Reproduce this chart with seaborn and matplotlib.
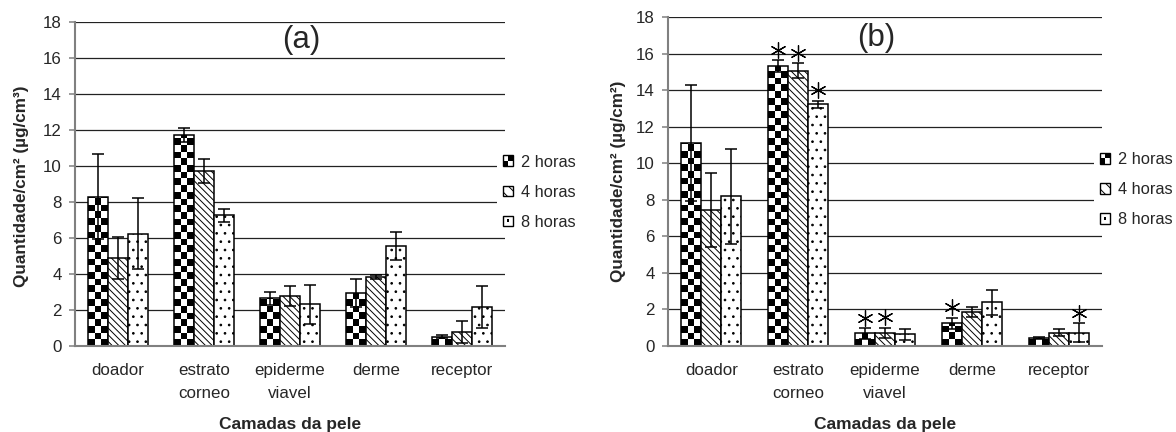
import numpy as np
import pandas as pd
import matplotlib
matplotlib.use("Agg")
import matplotlib.pyplot as plt
import seaborn as sns
from matplotlib.patches import Rectangle
from matplotlib.legend_handler import HandlerBase

# ---------------- data ----------------
categories = ["doador", "estrato\ncorneo", "epiderme\nviavel", "derme", "receptor"]
tempos = ["2 horas", "4 horas", "8 horas"]

a_2h = [8.30, 11.72, 2.65, 2.93, 0.52]
a_4h = [4.88, 9.74, 2.80, 3.85, 0.78]
a_8h = [6.24, 7.26, 2.33, 5.57, 2.17]
a_err_2h = [2.37, 0.41, 0.35, 0.77, 0.08]
a_err_4h = [1.18, 0.67, 0.55, 0.12, 0.60]
a_err_8h = [1.96, 0.35, 1.08, 0.78, 1.18]

b_2h = [11.11, 15.30, 0.69, 1.24, 0.42]
b_4h = [7.43, 15.05, 0.72, 1.88, 0.73]
b_8h = [8.20, 13.22, 0.64, 2.39, 0.73]
b_err_2h = [3.19, 0.33, 0.28, 0.31, 0.05]
b_err_4h = [2.02, 0.41, 0.28, 0.27, 0.20]
b_err_8h = [2.60, 0.19, 0.30, 0.67, 0.51]
b_sig_2h = [False, True, True, True, False]
b_sig_4h = [False, True, True, False, False]
b_sig_8h = [False, True, False, False, True]
a_sig = [[False] * 5] * 3

yticks = [0, 2, 4, 6, 8, 10, 12, 14, 16, 18]
ylabel_a = "Quantidade/cm² (µg/cm³)"
ylabel_b = "Quantidade/cm² (µg/cm²)"
xlabel = "Camadas da pele"

# ---------------- style ----------------
sns.set_style("white")
plt.rcParams["font.family"] = ["Liberation Sans", "DejaVu Sans"]
plt.rcParams["hatch.linewidth"] = 0.7
plt.rcParams["hatch.color"] = "black"

GRAY = "#808080"
FS = 12.2


class CheckerHandler(HandlerBase):
    def create_artists(self, legend, orig_handle, xdescent, ydescent,
                       width, height, fontsize, trans):
        arts = []
        w2, h2 = width / 2, height / 2
        for i in range(2):
            for j in range(2):
                c = "black" if (i + j) % 2 == 0 else "white"
                arts.append(Rectangle((-xdescent + i * w2, -ydescent + j * h2), w2, h2,
                                      facecolor=c, edgecolor="none", transform=trans))
        arts.append(Rectangle((-xdescent, -ydescent), width, height, facecolor="none",
                              edgecolor="black", lw=1.0, transform=trans))
        return arts


class HatchHandler(HandlerBase):
    def create_artists(self, legend, orig_handle, xdescent, ydescent,
                       width, height, fontsize, trans):
        return [Rectangle((-xdescent, -ydescent), width, height, facecolor="white",
                          edgecolor="black", lw=1.0, hatch="\\\\\\", transform=trans)]


class DotHandler(HandlerBase):
    def create_artists(self, legend, orig_handle, xdescent, ydescent,
                       width, height, fontsize, trans):
        d = width * 0.28
        return [Rectangle((-xdescent, -ydescent), width, height, facecolor="white",
                          edgecolor="black", lw=1.0, transform=trans),
                Rectangle((-xdescent + (width - d) / 2, -ydescent + (height - d) / 2), d, d,
                          facecolor="black", edgecolor="none", transform=trans)]


def draw_panel(ax, vals, errs, sigs, ylabel, tag, tagpos, px_per_unit):
    df = pd.DataFrame({
        "camada": categories * 3,
        "tempo": [t for t in tempos for _ in categories],
        "valor": list(vals[0]) + list(vals[1]) + list(vals[2]),
    })
    sns.barplot(data=df, x="camada", y="valor", hue="tempo", order=categories,
                hue_order=tempos, palette=["white"] * 3, width=0.69, gap=0,
                errorbar=None, edgecolor="black", linewidth=1.1, legend=False,
                ax=ax, zorder=2)

    hatches = [None, "\\" * 5, ".."]
    cell_h = 6.7 / px_per_unit
    star_off = 10.5 / px_per_unit
    bar_conts = list(ax.containers)
    for k, cont in enumerate(bar_conts):
        xs, hs = [], []
        for bar in cont:
            bar.set_zorder(2)
            xs.append(bar.get_x() + bar.get_width() / 2)
            hs.append(bar.get_height())
            if k == 0:
                bar.set_facecolor("none")
                x0, w, h = bar.get_x(), bar.get_width(), bar.get_height()
                nrows = int(np.ceil(h / cell_h)) + 1
                img = (np.add.outer(np.arange(nrows), np.arange(3)) % 2).astype(float)
                im = ax.imshow(img, cmap="gray", vmin=0, vmax=1, origin="lower",
                               extent=[x0, x0 + w, 0, nrows * cell_h],
                               interpolation="nearest", aspect="auto", zorder=1.5)
                im.set_clip_path(bar)
            else:
                bar.set_hatch(hatches[k])
        ax.errorbar(xs, hs, yerr=errs[k], fmt="none", ecolor="black",
                    elinewidth=1.1, capsize=4, capthick=1.1, zorder=3)
        sx = [x for x, s in zip(xs, sigs[k]) if s]
        sy = [h + e + star_off for h, e, s in zip(hs, errs[k], sigs[k]) if s]
        if sx:
            ax.plot(sx, sy, linestyle="none", marker=(6, 2, 0), markersize=11.5,
                    markeredgewidth=0.9, color="black", zorder=4)

    ax.set_xlim(-0.5, 4.5)
    ax.set_ylim(0, 18)
    ax.set_yticks(yticks)
    ax.set_yticklabels([str(t) for t in yticks], fontsize=FS)
    ax.set_xticks(range(5))
    ax.set_xticklabels(categories, fontsize=FS, linespacing=1.72)
    ax.set_xticks(np.arange(-0.5, 5.0, 1.0), minor=True)
    ax.tick_params(axis="x", which="major", length=0, pad=12)
    ax.tick_params(axis="x", which="minor", length=4, width=1.1, color=GRAY, direction="out")
    ax.tick_params(axis="y", length=4.5, width=1.1, color=GRAY, direction="out", pad=5, left=True)

    ax.grid(axis="y", color="#222222", lw=0.9)
    ax.grid(axis="x", visible=False)
    ax.set_axisbelow(True)
    for side in ["top", "right"]:
        ax.spines[side].set_visible(False)
    for side in ["left", "bottom"]:
        ax.spines[side].set_color(GRAY)
        ax.spines[side].set_linewidth(1.5)

    ax.set_ylabel(ylabel, fontsize=12.3, fontweight="bold")
    ax.set_xlabel(xlabel, fontsize=12.5, fontweight="bold")
    ax.text(tagpos[0], tagpos[1], tag, transform=ax.transAxes, fontsize=22.5,
            ha="center", va="center")

    h_checker = Rectangle((0, 0), 1, 1)
    h4 = Rectangle((0, 0), 1, 1)
    h8 = Rectangle((0, 0), 1, 1)
    leg = ax.legend([h_checker, h4, h8], tempos, loc="center left",
                    bbox_to_anchor=(0.982, 0.475), frameon=True, fontsize=11.8,
                    handlelength=0.62, handleheight=0.62, handletextpad=0.5,
                    labelspacing=0.92, borderaxespad=0, borderpad=0.35,
                    handler_map={h_checker: CheckerHandler(), h4: HatchHandler(),
                                 h8: DotHandler()})
    leg.get_frame().set_facecolor("white")
    leg.get_frame().set_edgecolor("none")
    leg.get_frame().set_alpha(1)
    leg.set_zorder(5)


fig = plt.figure(figsize=(11.76, 4.32), dpi=100)
ax_a = fig.add_axes([75 / 1176, 1 - 346 / 432, 430 / 1176, 324 / 432])
ax_b = fig.add_axes([668 / 1176, 1 - 346 / 432, 434 / 1176, 329 / 432])

draw_panel(ax_a, [a_2h, a_4h, a_8h], [a_err_2h, a_err_4h, a_err_8h], a_sig,
           ylabel_a, "(a)", (0.526, 0.944), 324 / 18)
draw_panel(ax_b, [b_2h, b_4h, b_8h], [b_err_2h, b_err_4h, b_err_8h],
           [b_sig_2h, b_sig_4h, b_sig_8h], ylabel_b, "(b)", (0.479, 0.936), 329 / 18)

ax_a.yaxis.set_label_coords(-0.124, 0.494)
ax_b.yaxis.set_label_coords(-0.113, 0.5)
for ax, hpx in [(ax_a, 324), (ax_b, 329)]:
    ax.xaxis.set_label_coords(0.5, -79 / hpx)
    ax.xaxis.label.set_va("center")
    ax.yaxis.label.set_va("center")

fig.savefig("out.png", dpi=100)
